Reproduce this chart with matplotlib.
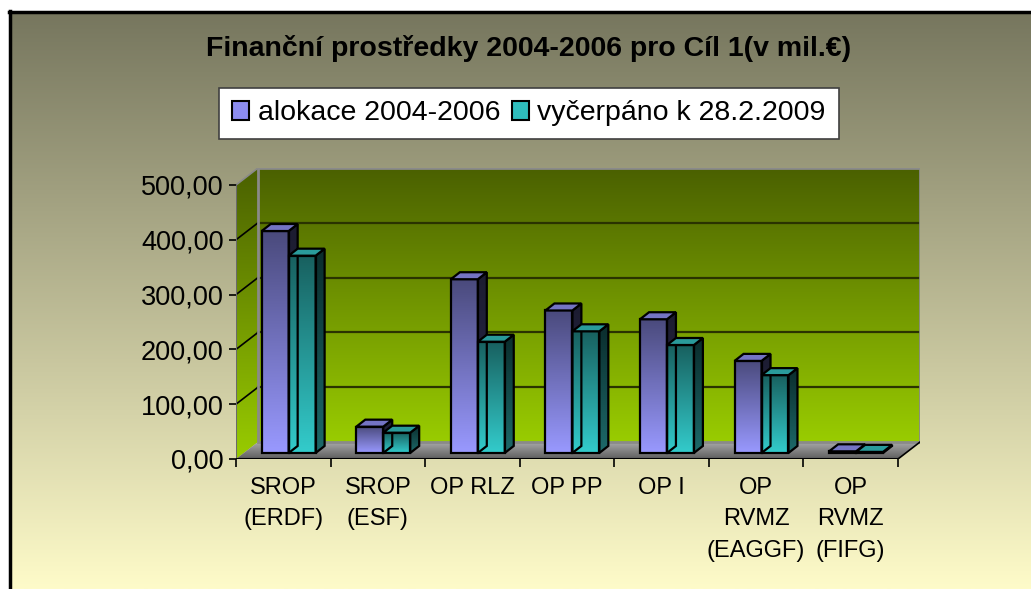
import numpy as np
import matplotlib
matplotlib.use("Agg")
import matplotlib.pyplot as plt
from matplotlib.patches import Polygon, Patch
from matplotlib.colors import LinearSegmentedColormap

plt.rcParams['font.family'] = ['Liberation Sans', 'DejaVu Sans']

# data
categories = ["SROP\n(ERDF)", "SROP\n(ESF)", "OP RLZ", "OP PP", "OP I",
              "OP\nRVMZ\n(EAGGF)", "OP\nRVMZ\n(FIFG)"]
alokace = [405, 48, 317, 260, 244, 168, 3]
vycerpano = [360, 37, 203, 222, 197, 142, 2]
series_names = ["alokace 2004-2006", "vyčerpáno k 28.2.2009"]
yticks = [0, 100, 200, 300, 400, 500]
ytick_labels = ["0,00", "100,00", "200,00", "300,00", "400,00", "500,00"]
title = "Finanční prostředky 2004-2006 pro Cíl 1(v mil.€)"

# 3d look (in data units)
DX, DY = 0.2326, 31.0      # depth of the back wall
BX, BY = 0.272, 11.0       # where bar fronts sit
BW = 0.285                 # bar width
ddx, ddy = 0.095, 12.8     # bar depth

W, H = 1031, 589
fig = plt.figure(figsize=(W / 100, H / 100), dpi=100)


def gradient(ax, extent, c_bottom, c_top, clip, z):
    cmap = LinearSegmentedColormap.from_list("g", [c_bottom, c_top])
    img = ax.imshow(np.linspace(0, 1, 256).reshape(-1, 1), cmap=cmap, origin="lower",
                    extent=extent, aspect="auto", zorder=z, interpolation="bilinear")
    if clip is not None:
        img.set_clip_path(clip)
    return img


# background
bg = fig.add_axes([0, 0, 1, 1])
bg.axis("off")
cmap_bg = LinearSegmentedColormap.from_list("bg", ["#76765e", "#fefbc9"])
bg.imshow(np.linspace(0, 1, 256).reshape(-1, 1), cmap=cmap_bg, extent=[9, W, H, 11],
          aspect="auto", origin="upper", zorder=0)
bg.plot([9, W], [11.5, 11.5], color="black", lw=2.5, zorder=1)
bg.plot([9.5, 9.5], [11, H], color="black", lw=2.5, zorder=1)
bg.set_xlim(0, W)
bg.set_ylim(H, 0)

# main axes
ax = fig.add_axes([236 / W, 130 / H, 684 / W, 291 / H])
ax.patch.set_visible(False)
for s in ax.spines.values():
    s.set_visible(False)
n = len(categories)
ymax = yticks[-1]

# back wall
wall = Polygon([(DX, DY), (n + DX, DY), (n + DX, ymax + DY), (DX, ymax + DY)],
               closed=True, facecolor="none", edgecolor="#8a8a8a", lw=2, zorder=3)
ax.add_patch(wall)
gradient(ax, [DX, n + DX, DY, ymax + DY], "#99cc00", "#4a6000", wall, 1)

# left wall
lwall = Polygon([(0, 0), (DX, DY), (DX, ymax + DY), (0, ymax)], closed=True,
                facecolor="none", edgecolor="none", zorder=2)
ax.add_patch(lwall)
gradient(ax, [0, DX, 0, ymax + DY], "#99cc00", "#4a6000", lwall, 1)

# floor
floor = Polygon([(0, 0), (n, 0), (n + DX, DY), (DX, DY)], closed=True,
                facecolor="none", edgecolor="none", zorder=2)
ax.add_patch(floor)
gradient(ax, [0, n + DX, 0, DY], "#5e5e5e", "#a8a8a8", floor, 1)

# gridlines
for v in yticks[1:-1]:
    ax.plot([DX, n + DX], [v + DY, v + DY], color="#2a3300", lw=1.6, zorder=2)
for v in yticks[1:]:
    ax.plot([0, DX], [v, v + DY], color="black" if v < ymax else "#8a8a8a", lw=1.2, zorder=2)
ax.plot([0, 0], [0, ymax], color="#6a6a6a", lw=1.5, zorder=3)
ax.plot([0, n], [0, 0], color="black", lw=1.5, zorder=3)
ax.plot([n, n + DX], [0, DY], color="black", lw=1.2, zorder=3)

# bars
fronts = [("#9999ff", "#4a4a7c"), ("#33cccc", "#18605f")]
tops = ["#7474c4", "#2a9b9b"]
sides = [("#2a2a4e", "#1c1c30"), ("#1d6a6a", "#0a2c2c")]
x = np.arange(n)
for i in range(n):
    for s, vals in enumerate([alokace, vycerpano]):
        v = vals[i]
        x0 = x[i] + BX + s * BW
        bar = ax.bar(x0, v, width=BW, bottom=BY, align="edge", facecolor="none",
                     edgecolor="black", lw=1.6, zorder=5)[0]
        gradient(ax, [x0, x0 + BW, BY, BY + v], fronts[s][0], fronts[s][1], bar, 4)
        x1 = x0 + BW
        side = Polygon([(x1, BY), (x1 + ddx, BY + ddy), (x1 + ddx, BY + v + ddy), (x1, BY + v)],
                       closed=True, facecolor="none", edgecolor="black", lw=1.6, zorder=5)
        ax.add_patch(side)
        gradient(ax, [x1, x1 + ddx, BY, BY + v + ddy], sides[s][0], sides[s][1], side, 4)
        top = Polygon([(x0, BY + v), (x1, BY + v), (x1 + ddx, BY + v + ddy), (x0 + ddx, BY + v + ddy)],
                      closed=True, facecolor=tops[s], edgecolor="black", lw=1.6, zorder=5)
        ax.add_patch(top)

ax.set_xlim(0, n + DX)
ax.set_ylim(0, ymax + DY)

# ticks
ax.set_yticks(yticks)
ax.set_yticklabels(ytick_labels, fontsize=19.5)
ax.tick_params(axis="y", length=5, width=1.2, pad=4, color="black")
ax.set_xticks(np.arange(n + 1))
ax.set_xticklabels([""] * (n + 1))
ax.set_xticks(x + 0.5, minor=True)
ax.set_xticklabels(categories, minor=True, fontsize=17, linespacing=1.55)
ax.tick_params(axis="x", which="major", length=6, width=1.2, color="black")
ax.tick_params(axis="x", which="minor", length=0, pad=13)

# title and legend
fig.text(529 / W, 1 - 49 / H, title, ha="center", va="center", fontsize=20.5, fontweight="bold")
handles = [Patch(facecolor="#8c8cf0", edgecolor="black", lw=1.5),
           Patch(facecolor="#2fbdbd", edgecolor="black", lw=1.5)]
leg = fig.legend(handles, series_names, loc="center", bbox_to_anchor=(529 / W, 1 - 113.5 / H),
                 ncol=2, fontsize=20.5, frameon=True, fancybox=False, edgecolor="#404040",
                 framealpha=1, handlelength=0.6, handleheight=0.6, handletextpad=0.3,
                 columnspacing=0.4, borderpad=0.45)
leg.get_frame().set_linewidth(1.2)

fig.savefig("out.png", dpi=100)
